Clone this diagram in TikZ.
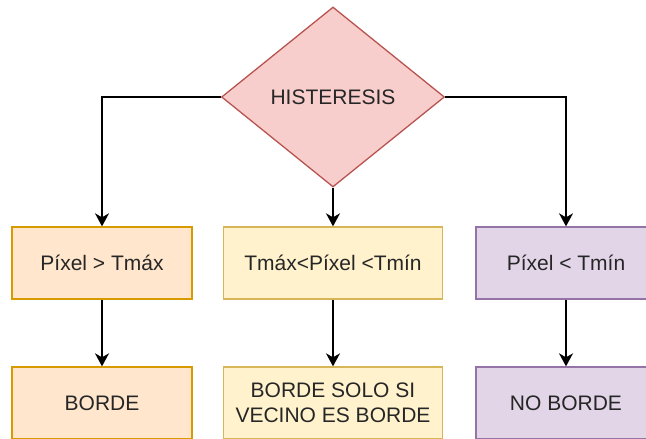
\documentclass[tikz,border=0pt]{standalone}
\usepackage{fontspec}
\setmainfont{Liberation Sans}
\usetikzlibrary{shapes.geometric,arrows.meta}

\definecolor{rojofill}{HTML}{F8CECC}
\definecolor{rojoline}{HTML}{B85450}
\definecolor{naranjafill}{HTML}{FFE6CC}
\definecolor{naranjaline}{HTML}{D79B00}
\definecolor{amarillofill}{HTML}{FFF2CC}
\definecolor{amarilloline}{HTML}{D6B656}
\definecolor{moradofill}{HTML}{E1D5E7}
\definecolor{moradoline}{HTML}{9673A6}

\begin{document}
\begin{tikzpicture}[
        x=1pt, y=-1pt,
        every node/.style={font=\fontsize{21}{25}\selectfont, text=black!85},
        decision/.style={diamond, draw=rojoline, fill=rojofill, line width=1.3pt,
            inner sep=0pt, minimum width=223pt, minimum height=180pt, aspect=1.24},
        caja/.style={rectangle, draw, line width=1.3pt, minimum height=72pt,
            inner sep=0pt, align=center},
        arrow/.style={-{Stealth[length=13pt,width=14pt,inset=4pt]}, line width=1.5pt, draw=black}
      ]
      \useasboundingbox (0,0) rectangle (646,439);

      \node[decision] (hist) at (333,97) {HISTERESIS};

      \node[caja, fill=naranjafill, draw=naranjaline, minimum width=180pt]
      (mayor) at (102,263) {Píxel > Tmáx};
      \node[caja, fill=amarillofill, draw=amarilloline, minimum width=219pt]
      (entre) at (333,263) {Tmáx<Píxel <Tmín};
      \node[caja, fill=moradofill, draw=moradoline, minimum width=180pt]
      (menor) at (566,263) {Píxel < Tmín};

      \node[caja, fill=naranjafill, draw=naranjaline, minimum width=180pt]
      (borde) at (102,403) {BORDE};
      \node[caja, fill=amarillofill, draw=amarilloline, minimum width=219pt]
      (vecino) at (333,403) {BORDE SOLO SI\\VECINO ES BORDE};
      \node[caja, fill=moradofill, draw=moradoline, minimum width=180pt]
      (noborde) at (566,403) {NO BORDE};

      \draw[arrow] (hist.west) -| (mayor.north);
      \draw[arrow] (hist.south) -- (entre.north);
      \draw[arrow] (hist.east) -| (menor.north);

      \draw[arrow] (mayor.south) -- (borde.north);
      \draw[arrow] (entre.south) -- (vecino.north);
      \draw[arrow] (menor.south) -- (noborde.north);
    \end{tikzpicture}
\end{document}
